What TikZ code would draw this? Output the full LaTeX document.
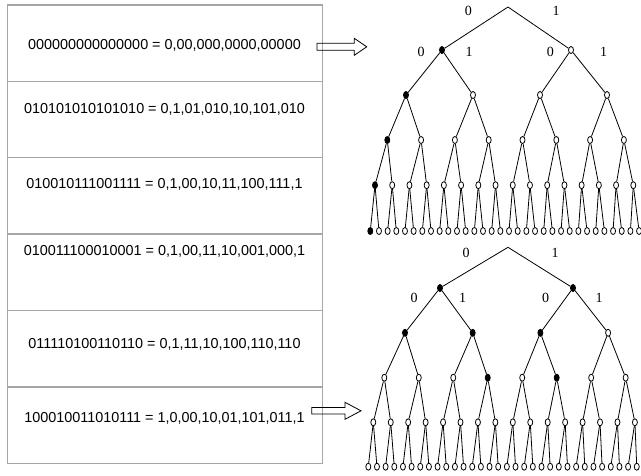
\documentclass[tikz,border=0pt]{standalone}
\usepackage{fontspec}
\setmainfont{Liberation Sans}
\newfontfamily\labfont{Liberation Serif}
\usetikzlibrary{shapes.geometric}
\begin{document}
\begin{tikzpicture}[x=1pt,y=-1pt,
 nd/.style={ellipse,draw,line width=0.8pt,fill=white,minimum width=5pt,minimum height=7pt,inner sep=0pt},
 edge/.style={line width=0.8pt},
 rowbox/.style={draw=gray!70,line width=1.2pt,outer sep=0pt,inner sep=0pt,minimum width=315pt,minimum height=76.4pt,anchor=north west},
 txt/.style={font=\fontsize{14.4}{16}\selectfont,anchor=base,inner sep=0pt},
 lab/.style={font=\labfont\fontsize{14}{16}\selectfont,inner sep=0pt},
 blk/.style={draw=black,line width=0.8pt,line join=miter},
 f-a-1-0/.style={fill=black}, f-a-2-0/.style={fill=black}, f-a-3-0/.style={fill=black},
 f-a-4-0/.style={fill=black}, f-a-5-0/.style={fill=black},
 f-b-1-0/.style={fill=black}, f-b-1-1/.style={fill=black},
 f-b-2-0/.style={fill=black}, f-b-2-1/.style={fill=black}, f-b-2-2/.style={fill=black},
 f-b-3-3/.style={fill=black}, f-b-3-5/.style={fill=black}
]
\useasboundingbox (0,0) rectangle (641,475);
\fill[white] (0,0) rectangle (641,475);

% table
\foreach \k/\y in {1/5,2/81.2,3/157.6,4/234,5/310.6,6/386.9}
  \node[rowbox] (r\k) at (7.3,\y) {};
\node[txt] (t1) at (164.5,49.5) {000000000000000 = 0,00,000,0000,00000};
\node[txt] (t2) at (164.5,113.5) {010101010101010 = 0,1,01,010,10,101,010};
\node[txt] (t3) at (164.5,188.9) {010010111001111 = 0,1,00,10,11,100,111,1};
\node[txt] (t4) at (164.5,255.2) {010011100010001 = 0,1,00,11,10,001,000,1};
\node[txt] (t5) at (164.5,348.9) {011110100110110 = 0,1,11,10,100,110,110};
\node[txt] (t6) at (164.5,422.9) {100010011010111 = 1,0,00,10,01,101,011,1};

% block arrows
\draw[blk] (317,43.3) -- (354.3,43.3) -- (354.3,38.3) -- (366.7,46.8) -- (354.3,55.3) -- (354.3,50.3) -- (317,50.3) -- cycle;
\draw[blk] (311.7,407.5) -- (345,407.5) -- (345,402.3) -- (361,410.8) -- (345,419.3) -- (345,414) -- (311.7,414) -- cycle;

% tree A
\coordinate (a-0-0) at (508,7);
\foreach \i/\x in {0/442,1/571} \node[nd,f-a-1-\i/.try] (a-1-\i) at (\x,50) {};
\foreach \i in {0,...,3} \node[nd,f-a-2-\i/.try] (a-2-\i) at ({406+67*\i},95) {};
\foreach \i in {0,...,7} \node[nd,f-a-3-\i/.try] (a-3-\i) at ({387.3+33.8*\i},140) {};
\foreach \i in {0,...,15} \node[nd,f-a-4-\i/.try] (a-4-\i) at ({375+17.22*\i},185.2) {};
\foreach \i in {0,...,31} \node[nd,f-a-5-\i/.try] (a-5-\i) at ({370.3+8.67*\i},231) {};
\foreach \i in {0,1} \draw[edge] (a-0-0) -- (a-1-\i);
\foreach \i in {0,...,3} {\pgfmathtruncatemacro\pp{\i/2}\draw[edge] (a-1-\pp) -- (a-2-\i);}
\foreach \i in {0,...,7} {\pgfmathtruncatemacro\pp{\i/2}\draw[edge] (a-2-\pp) -- (a-3-\i);}
\foreach \i in {0,...,15} {\pgfmathtruncatemacro\pp{\i/2}\draw[edge] (a-3-\pp) -- (a-4-\i);}
\foreach \i in {0,...,31} {\pgfmathtruncatemacro\pp{\i/2}\draw[edge] (a-4-\pp) -- (a-5-\i);}
\node[lab] (la1) at (468.3,11) {0};
\node[lab] (la2) at (556,11) {1};
\node[lab] (la3) at (421,51.7) {0};
\node[lab] (la4) at (469,51.7) {1};
\node[lab] (la5) at (550.3,51.7) {0};
\node[lab] (la6) at (603.7,51.7) {1};

% tree B
\coordinate (b-0-0) at (508,247.3);
\foreach \i/\x in {0/440,1/573} \node[nd,f-b-1-\i/.try] (b-1-\i) at (\x,288) {};
\foreach \i in {0,...,3} \node[nd,f-b-2-\i/.try] (b-2-\i) at ({405+67.7*\i},332.8) {};
\foreach \i in {0,...,7} \node[nd,f-b-3-\i/.try] (b-3-\i) at ({384.3+34.48*\i},377.7) {};
\foreach \i in {0,...,15} \node[nd,f-b-4-\i/.try] (b-4-\i) at ({373.3+17.44*\i},422.3) {};
\foreach \i in {0,...,31} \node[nd,f-b-5-\i/.try] (b-5-\i) at ({368.3+8.66*\i},466.7) {};
\foreach \i in {0,1} \draw[edge] (b-0-0) -- (b-1-\i);
\foreach \i in {0,...,3} {\pgfmathtruncatemacro\pp{\i/2}\draw[edge] (b-1-\pp) -- (b-2-\i);}
\foreach \i in {0,...,7} {\pgfmathtruncatemacro\pp{\i/2}\draw[edge] (b-2-\pp) -- (b-3-\i);}
\foreach \i in {0,...,15} {\pgfmathtruncatemacro\pp{\i/2}\draw[edge] (b-3-\pp) -- (b-4-\i);}
\foreach \i in {0,...,31} {\pgfmathtruncatemacro\pp{\i/2}\draw[edge] (b-4-\pp) -- (b-5-\i);}
\node[lab] (lb1) at (466,253.3) {0};
\node[lab] (lb2) at (555,253.3) {1};
\node[lab] (lb3) at (414,297.7) {0};
\node[lab] (lb4) at (462.7,297.7) {1};
\node[lab] (lb5) at (545.7,297.7) {0};
\node[lab] (lb6) at (599,297.7) {1};
\end{tikzpicture}
\end{document}
